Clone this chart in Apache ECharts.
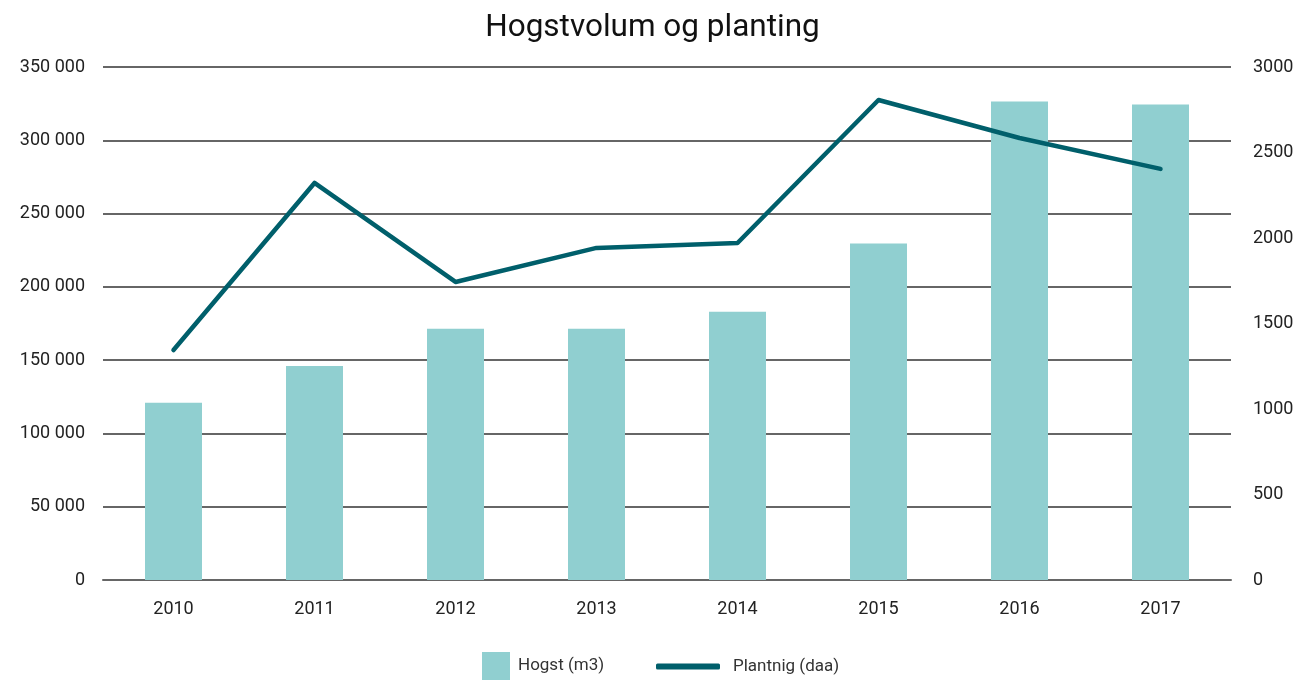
<!DOCTYPE html>
<html>
<head>
<meta charset="utf-8">
<script src="https://cdn.jsdelivr.net/npm/echarts@6/dist/echarts.min.js"></script>
<style>
  html, body { margin: 0; padding: 0; background: #fff; }
  #chart { width: 1305px; height: 680px; }
</style>
</head>
<body>
<div id="chart"></div>
<script>
const years = ['2010', '2011', '2012', '2013', '2014', '2015', '2016', '2017']
const hogst = [121000, 146000, 171500, 171500, 183000, 229500, 326500, 324500]
const planting = [1345, 2322, 1743, 1942, 1971, 2807, 2585, 2404]

const font = 'Roboto'
const fmtThousands = (v) => String(v).replace(/\B(?=(\d{3})+(?!\d))/g, ' ')

const chart = echarts.init(document.getElementById('chart'))
chart.setOption({
  animation: false,
  textStyle: { fontFamily: font },
  title: {
    text: 'Hogstvolum og planting',
    left: 'center',
    top: 7,
    textStyle: { fontFamily: font, fontSize: 31.5, fontWeight: 'normal', color: '#111' }
  },
  // two legends so each icon can get its own size
  legend: [
    {
      left: 482,
      top: 652,
      padding: 0,
      itemWidth: 28,
      itemHeight: 28,
      icon: 'rect',
      textStyle: { fontFamily: font, fontSize: 17, color: '#333', padding: [6, 0, 0, 3] },
      data: ['Hogst (m3)']
    },
    {
      left: 656,
      top: 658,
      padding: 0,
      itemWidth: 64,
      itemHeight: 6,
      icon: 'roundRect',
      textStyle: { fontFamily: font, fontSize: 17, color: '#333', padding: [0, 0, 0, 8] },
      data: ['Plantnig (daa)']
    }
  ],
  grid: { left: 103, right: 74, top: 67, bottom: 100, containLabel: false },
  xAxis: {
    type: 'category',
    data: years,
    axisTick: { show: false },
    axisLine: { lineStyle: { color: '#666', width: 2 } },
    axisLabel: { fontSize: 18, color: '#222', margin: 20 }
  },
  yAxis: [
    {
      type: 'value',
      min: 0, max: 350000, interval: 50000,
      axisLine: { show: false },
      axisTick: { show: false },
      axisLabel: { fontSize: 18, color: '#222', margin: 18, formatter: fmtThousands },
      splitLine: { lineStyle: { color: '#666', width: 2 } }
    },
    {
      type: 'value',
      min: 0, max: 3000, interval: 500,
      axisLine: { show: false },
      axisTick: { show: false },
      axisLabel: { fontSize: 18, color: '#222', margin: 22, formatter: (v) => String(v) },
      splitLine: { show: false }
    }
  ],
  series: [
    {
      name: 'Hogst (m3)',
      type: 'bar',
      data: hogst,
      barWidth: 57,
      itemStyle: { color: '#90cfd0' }
    },
    {
      name: 'Plantnig (daa)',
      type: 'line',
      yAxisIndex: 1,
      data: planting,
      symbol: 'none',
      lineStyle: { color: '#005f6b', width: 4.5, cap: 'round', join: 'round' },
      itemStyle: { color: '#005f6b' }
    }
  ]
})
</script>
</body>
</html>
